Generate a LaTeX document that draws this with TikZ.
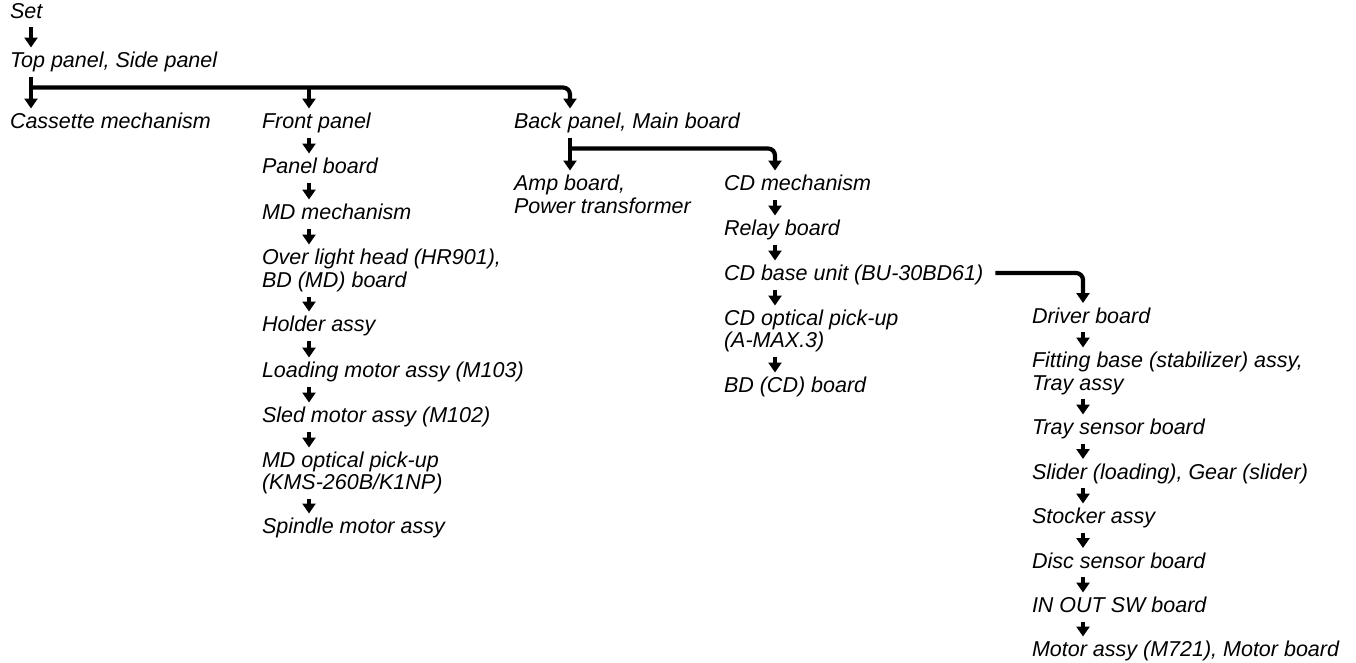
\documentclass[tikz,border=0pt]{standalone}
\usepackage{fontspec}
\setmainfont{Liberation Sans}
\usetikzlibrary{arrows.meta,calc}
\tikzset{
  lbl/.style={anchor=base west, inner sep=0pt, outer sep=0pt, font=\itshape\fontsize{21.5}{23}\selectfont},
  arr/.style={line width=4.2pt, -{Triangle[width=13pt,length=10pt]}},
  rc/.style={rounded corners=7pt}
}
\newcommand\dn[3]{\draw[arr] ([xshift=#1,yshift=-9pt]#2.base west) -- ([xshift=#1,yshift=20pt]#3.base west);}
\begin{document}
\begin{tikzpicture}[x=1pt,y=-1pt]
\useasboundingbox (0,0) rectangle (1356,662);
% column 1
\node[lbl] (set) at (10,18) {Set};
\node[lbl] (top) at (10,67.5) {Top panel, Side panel};
\node[lbl] (cass) at (10,128.5) {Cassette mechanism};
% front column
\node[lbl] (front) at (262,128.5) {Front panel};
\node[lbl] (panel) at (262,173.5) {Panel board};
\node[lbl] (mdmech) at (262,219.5) {MD mechanism};
\node[lbl] (over) at (262,264.5) {Over light head (HR901),};
\node[lbl] (overb) at (262,287.5) {BD (MD) board};
\node[lbl] (holder) at (262,331.5) {Holder assy};
\node[lbl] (loading) at (262,377.5) {Loading motor assy (M103)};
\node[lbl] (sled) at (262,422.5) {Sled motor assy (M102)};
\node[lbl] (mdopt) at (262,467.5) {MD optical pick-up};
\node[lbl] (mdoptb) at (262,489.5) {(KMS-260B/K1NP)};
\node[lbl] (spindle) at (262,533.5) {Spindle motor assy};
% back column
\node[lbl] (back) at (514,128.5) {Back panel, Main board};
\node[lbl] (amp) at (514,190.5) {Amp board,};
\node[lbl] (ampb) at (514,213.5) {Power transformer};
% CD column
\node[lbl] (cdmech) at (724,190.5) {CD mechanism};
\node[lbl] (relay) at (724,235.5) {Relay board};
\node[lbl] (cdbase) at (724,280.5) {CD base unit (BU-30BD61)};
\node[lbl] (cdopt) at (724,325.5) {CD optical pick-up};
\node[lbl] (cdoptb) at (724,347.5) {(A-MAX.3)};
\node[lbl] (bdcd) at (724,392.5) {BD (CD) board};
% driver column
\node[lbl] (driver) at (1032,323) {Driver board};
\node[lbl] (fit) at (1032,367.5) {Fitting base (stabilizer) assy,};
\node[lbl] (fitb) at (1032,390) {Tray assy};
\node[lbl] (traysens) at (1032,434.5) {Tray sensor board};
\node[lbl] (slider) at (1032,479) {Slider (loading), Gear (slider)};
\node[lbl] (stocker) at (1032,523.5) {Stocker assy};
\node[lbl] (disc) at (1032,568) {Disc sensor board};
\node[lbl] (inout) at (1032,612.5) {IN OUT SW board};
\node[lbl] (motor) at (1032,656.5) {Motor assy (M721), Motor board};
% simple arrows
\dn{21pt}{set}{top}
\dn{21pt}{top}{cass}
\dn{47pt}{front}{panel}
\dn{47pt}{panel}{mdmech}
\dn{47pt}{mdmech}{over}
\dn{47pt}{overb}{holder}
\dn{47pt}{holder}{loading}
\dn{47pt}{loading}{sled}
\dn{47pt}{sled}{mdopt}
\dn{47pt}{mdoptb}{spindle}
\dn{56pt}{back}{amp}
\dn{51pt}{cdmech}{relay}
\dn{51pt}{relay}{cdbase}
\dn{51pt}{cdbase}{cdopt}
\dn{51pt}{cdoptb}{bdcd}
\dn{51pt}{driver}{fit}
\dn{51pt}{fitb}{traysens}
\dn{51pt}{traysens}{slider}
\dn{51pt}{slider}{stocker}
\dn{51pt}{stocker}{disc}
\dn{51pt}{disc}{inout}
\dn{51pt}{inout}{motor}
% branch from top panel
\coordinate (b1) at ([xshift=21pt,yshift=-20pt]top.base west);
\coordinate (fa) at ([xshift=47pt,yshift=20pt]front.base west);
\draw[arr,rc] (b1) -| ([xshift=56pt,yshift=20pt]back.base west);
\draw[arr] (b1 -| fa) -- (fa);
% branch from back panel
\coordinate (b2) at ([xshift=56pt,yshift=-20pt]back.base west);
\draw[arr,rc] (b2) -| ([xshift=51pt,yshift=20pt]cdmech.base west);
% branch from CD base unit
\draw[arr,rc] ([xshift=12pt,yshift=7.5pt]cdbase.base east) -| ([xshift=51pt,yshift=20pt]driver.base west);
\end{tikzpicture}
\end{document}
